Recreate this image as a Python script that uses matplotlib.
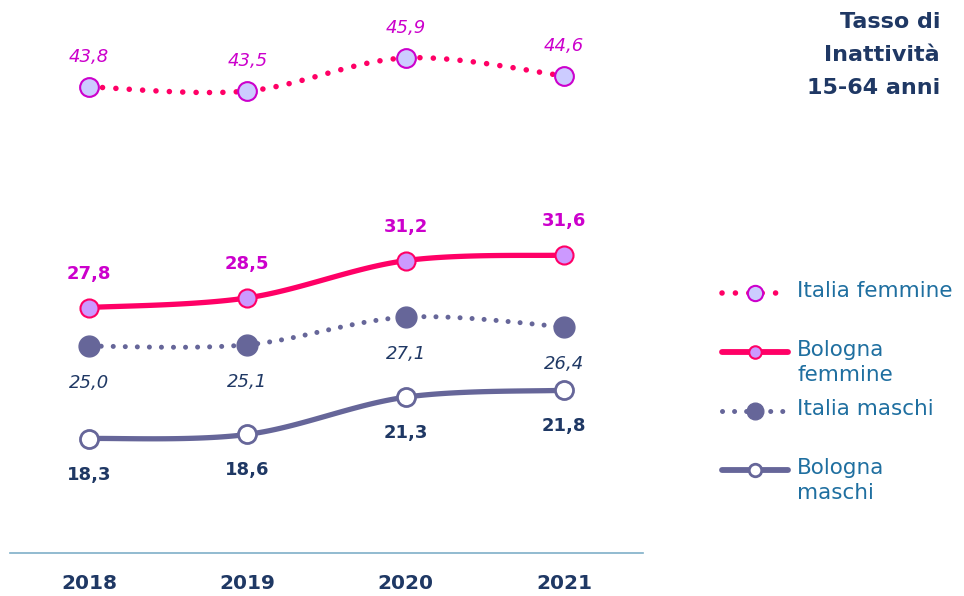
import matplotlib
matplotlib.use("Agg")
import matplotlib.pyplot as plt
import numpy as np

plt.rcParams['font.family'] = ['DejaVu Sans']

anni = ["2018", "2019", "2020", "2021"]
italia_femmine = [43.8, 43.5, 45.9, 44.6]
bologna_femmine = [27.8, 28.5, 31.2, 31.6]
italia_maschi = [25.0, 25.1, 27.1, 26.4]
bologna_maschi = [18.3, 18.6, 21.3, 21.8]

PINK = "#FF0066"
MAGENTA = "#CC00CC"
VIOLA = "#666699"
NAVY = "#1F3864"
TEAL = "#1F6FA0"


def smooth(xs, ys, n=40):
    # Catmull-Rom curve through the points, like the smoothed line of a spreadsheet
    xs = np.asarray(xs, float)
    ys = np.asarray(ys, float)
    px = np.concatenate([[xs[0]], xs, [xs[-1]]])
    py = np.concatenate([[ys[0]], ys, [ys[-1]]])
    ox, oy = [], []
    t = np.linspace(0, 1, n)
    for i in range(1, len(px) - 2):
        for p, out in ((px, ox), (py, oy)):
            p0, p1, p2, p3 = p[i - 1], p[i], p[i + 1], p[i + 2]
            out.extend(0.5 * ((2 * p1) + (-p0 + p2) * t
                              + (2 * p0 - 5 * p1 + 4 * p2 - p3) * t ** 2
                              + (-p0 + 3 * p1 - 3 * p2 + p3) * t ** 3))
    return np.array(ox), np.array(oy)


fig = plt.figure(figsize=(9.64, 5.96), dpi=100)
ax = fig.add_axes([10 / 964, 43 / 596, 633 / 964, 553 / 596])
x = np.arange(len(anni))

dots = (0, (0.01, 2.4))

# Italia femmine
sx, sy = smooth(x, italia_femmine)
ax.plot(sx, sy, color=PINK, lw=4, linestyle=dots, dash_capstyle='round', zorder=2)
ax.plot(x, italia_femmine, 'o', ms=13.5, mfc="#CCCCFF", mec=MAGENTA, mew=1.5, zorder=3)

# Bologna femmine
sx, sy = smooth(x, bologna_femmine)
ax.plot(sx, sy, color=PINK, lw=3.8, solid_capstyle='round', zorder=2)
ax.plot(x, bologna_femmine, 'o', ms=13, mfc="#CC99FF", mec=PINK, mew=1.5, zorder=3)

# Italia maschi
sx, sy = smooth(x, italia_maschi)
ax.plot(sx, sy, color=VIOLA, lw=3.6, linestyle=dots, dash_capstyle='round', zorder=2)
ax.plot(x, italia_maschi, 'o', ms=15, mfc=VIOLA, mec=VIOLA, zorder=3)

# Bologna maschi
sx, sy = smooth(x, bologna_maschi)
ax.plot(sx, sy, color=VIOLA, lw=3.8, solid_capstyle='round', zorder=2)
ax.plot(x, bologna_maschi, 'o', ms=13, mfc="white", mec=VIOLA, mew=2, zorder=3)


def etichette(vals, dy, color, style, weight):
    for xi, v in zip(x, vals):
        ax.annotate(f"{v:.1f}".replace(".", ","), (xi, v), xytext=(0, dy),
                    textcoords='offset pixels', ha='center', va='center',
                    color=color, fontsize=13, style=style, fontweight=weight)


etichette(italia_femmine, 30, MAGENTA, 'italic', 'normal')
etichette(bologna_femmine, 34, MAGENTA, 'normal', 'bold')
etichette(italia_maschi, -37, NAVY, 'italic', 'normal')
etichette(bologna_maschi, -36, NAVY, 'normal', 'bold')

ax.set_xlim(-0.5, 3.5)
ax.set_ylim(10, 50.1)
for s in ['top', 'left', 'right']:
    ax.spines[s].set_visible(False)
ax.spines['bottom'].set_color("#7FAFC8")
ax.spines['bottom'].set_linewidth(1.2)
ax.set_yticks([])
ax.set_xticks(x)
ax.set_xticklabels(anni, fontsize=14.5, fontweight='bold', color=NAVY)
ax.tick_params(axis='x', length=0, pad=15)

fig.text(940 / 964, 1 - 12 / 596, "Tasso di\nInattività\n15-64 anni", ha='right', va='top',
         fontsize=16, fontweight='bold', color=NAVY, linespacing=1.8)

# legenda disegnata a mano
lg = fig.add_axes([0, 0, 1, 1], facecolor='none')
lg.set_xlim(0, 964)
lg.set_ylim(596, 0)
lg.axis('off')
voci = [
    ("Italia femmine", 293, PINK, dots, 4, "#CCCCFF", MAGENTA, 11, 1.5),
    ("Bologna\nfemmine", 352, PINK, '-', 4.2, "#CC99FF", PINK, 9, 1.5),
    ("Italia maschi", 411, VIOLA, dots, 3.6, VIOLA, VIOLA, 12, 1),
    ("Bologna\nmaschi", 470, VIOLA, '-', 4.2, "white", VIOLA, 9, 2),
]
for testo, yy, col, ls, lw, mfc, mec, ms, mew in voci:
    lg.plot([722, 788], [yy, yy], color=col, lw=lw, linestyle=ls,
            dash_capstyle='round', solid_capstyle='round')
    lg.plot([755], [yy], 'o', ms=ms, mfc=mfc, mec=mec, mew=mew)
    lg.text(797, yy - 12, testo, ha='left', va='top', fontsize=15.5, color=TEAL,
            linespacing=1.3)

fig.savefig("out.png", dpi=100)
